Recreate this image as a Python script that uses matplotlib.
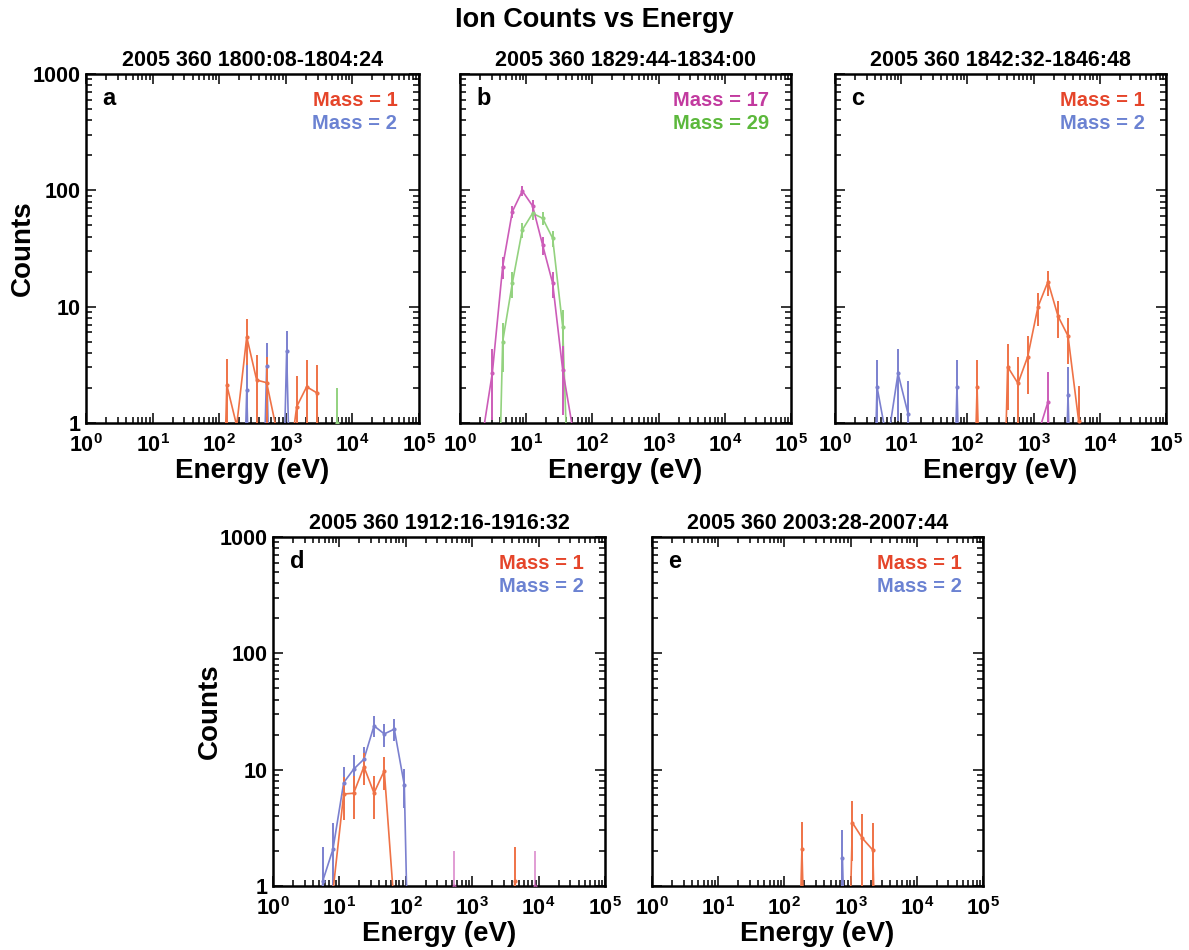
import numpy as np
import matplotlib
matplotlib.use("Agg")
import matplotlib.pyplot as plt
from matplotlib.ticker import LogLocator, FuncFormatter, NullFormatter

plt.rcParams['font.family'] = ['Liberation Sans', 'DejaVu Sans']
plt.rcParams['font.weight'] = 'bold'
plt.rcParams['mathtext.fontset'] = 'custom'
plt.rcParams['mathtext.rm'] = 'Liberation Sans:bold'
plt.rcParams['mathtext.bf'] = 'Liberation Sans:bold'
plt.rcParams['mathtext.it'] = 'Liberation Sans:bold'
plt.rcParams['mathtext.default'] = 'rm'

# ---- energy bins (eV) and counts per interval; 0 = no counts ----
energy_a = [92, 130, 183, 259, 365, 516, 730, 1030, 1456, 2057, 2906, 4100, 5800, 8200]
mass1_a  = [0, 2.12, 0.95, 5.5, 2.34, 2.22, 0.86, 0.3, 1.38, 2.05, 1.82, 0, 0, 0]
mass2_a  = [0, 0, 0, 1.92, 0, 3.11, 0, 4.16, 0, 0, 0, 0, 0, 0]
mass29_a = [0, 0, 0, 0, 0, 0, 0, 0, 0, 0, 0, 0, 1.0, 0]

energy_b = [1.53, 2.17, 3.08, 4.41, 6.17, 8.73, 12.5, 17.7, 25.1, 35.6, 50.3, 71.0]
mass17_b = [0, 0.75, 2.7, 22.1, 65.6, 98.8, 73.4, 33.9, 15.9, 2.86, 0.9, 0]
mass29_b = [0, 0, 0, 5.0, 15.9, 45.7, 63.5, 57.5, 38.7, 6.7, 0.02, 0]

energy_c = [3.05, 4.31, 6.2, 8.95, 12.7, 18, 25, 35, 49, 69.6, 98, 140, 200, 285,
            405, 581, 815, 1165, 1649, 2337, 3311, 4786, 6700]
mass1_c  = [0, 0, 0, 0, 0, 0, 0, 0, 0, 0, 0, 2.05, 0, 0,
            3.05, 2.19, 3.72, 10.0, 16.4, 8.3, 5.6, 1.05, 0]
mass2_c  = [0, 2.05, 0.67, 2.67, 1.2, 0, 0, 0, 0, 2.05, 0, 0, 0, 0,
            0, 0, 0, 0, 0, 0, 1.74, 0, 0]
mass17_c = [0, 0, 0, 0, 0, 0, 0, 0, 0, 0, 0, 0, 0, 0,
            0, 0, 0, 0.8, 1.52, 0, 0, 0, 0]

energy_d = [4.0, 5.6, 8.0, 11.6, 16.4, 23.4, 33.2, 47.4, 67.1, 94.9, 134, 190, 270,
            380, 541, 765, 1080, 1530, 2170, 3070, 4370, 6200, 8830, 12500]
mass1_d  = [0, 0, 0.9, 6.18, 6.27, 10.6, 6.3, 9.8, 0.65, 0, 0, 0, 0,
            0, 0, 0, 0, 0, 0, 0, 1.1, 0, 0, 0]
mass2_d  = [0, 1.1, 2.07, 7.73, 10.1, 12.3, 23.8, 20.3, 22.3, 7.4, 0, 0, 0,
            0, 0, 0, 0, 0, 0, 0, 0, 0, 0, 0]
mass17_d = [0, 0, 0, 0, 0, 0, 0, 0, 0, 0, 0, 0, 0,
            0, 1.0, 0, 0, 0, 0, 0, 0, 0, 1.0, 0]

energy_e = [92, 130, 184, 260, 370, 530, 753, 1064, 1507, 2162, 3060]
mass1_e  = [0, 0, 2.08, 0, 0, 0, 0, 3.5, 2.57, 2.04, 0]
mass2_e  = [0, 0, 0, 0, 0, 0, 1.73, 0, 0, 0, 0]

titles = ["2005 360 1800:08-1804:24", "2005 360 1829:44-1834:00",
          "2005 360 1842:32-1846:48", "2005 360 1912:16-1916:32",
          "2005 360 2003:28-2007:44"]
letters = ["a", "b", "c", "d", "e"]

# colours: (label colour, line colour)
C1 = ('#e5452a', '#ef7246')
C2 = ('#6b82d2', '#7b80cf')
C17 = ('#c23a9f', '#cc5cb8')
C29 = ('#5cb83c', '#93d27f')

FLOOR = 1e-3
W, H = 1189, 950

fig = plt.figure(figsize=(W / 100, H / 100), dpi=100)


def make_axes(l, t, r, b):
    return fig.add_axes([l / W, 1 - b / H, (r - l) / W, (b - t) / H])


def draw_series(ax, energy, counts, color, alpha=1.0):
    e = np.asarray(energy, float)
    c = np.asarray(counts, float)
    shown = np.where(c > 0, c, FLOOR)
    ax.plot(e, shown, color=color, lw=1.2, alpha=alpha, zorder=3)
    meas = c >= 1.0
    err = np.sqrt(c[meas])
    lo = np.maximum(c[meas] - err, FLOOR)
    hi = c[meas] + err
    ax.vlines(e[meas], lo, hi, color=color, lw=1.4, alpha=alpha, zorder=3)
    ax.plot(e[meas], c[meas], ls='none', marker='.', ms=4, color=color,
            alpha=alpha, zorder=4)


def style_axes(ax, show_ylabels):
    ax.set_xscale('log')
    ax.set_yscale('log')
    ax.set_xlim(1, 1e5)
    ax.set_ylim(1, 1000)
    ax.xaxis.set_major_locator(LogLocator(base=10, numticks=10))
    ax.xaxis.set_minor_locator(LogLocator(base=10, subs=np.arange(2, 10), numticks=20))
    ax.yaxis.set_major_locator(LogLocator(base=10, numticks=10))
    ax.yaxis.set_minor_locator(LogLocator(base=10, subs=np.arange(2, 10), numticks=20))
    ax.xaxis.set_major_formatter(FuncFormatter(
        lambda v, p: r'$\mathrm{10^{%d}}$' % int(round(np.log10(v)))))
    ax.xaxis.set_minor_formatter(NullFormatter())
    ax.yaxis.set_major_formatter(FuncFormatter(lambda v, p: '%d' % int(round(v))))
    ax.yaxis.set_minor_formatter(NullFormatter())
    ax.tick_params(which='both', direction='in', top=True, right=True,
                   width=1.1, labelsize=15.5, colors='black')
    ax.tick_params(which='major', length=7)
    ax.tick_params(which='minor', length=4)
    ax.tick_params(axis='x', pad=8)
    ax.tick_params(axis='y', pad=4, labelleft=show_ylabels)
    for s in ax.spines.values():
        s.set_linewidth(1.8)
    ax.set_xlabel('Energy (eV)', fontsize=20, fontweight='bold')
    ax.xaxis.set_label_coords(0.5, -0.1)
    ax.xaxis.label.set_va('top')
    if show_ylabels:
        ax.set_ylabel('Counts', fontsize=20, fontweight='bold')
        ax.yaxis.set_label_coords(-0.152, 0.5)


def legend_text(ax, lines):
    ys = [0.923, 0.858]
    for (txt, col), y in zip(lines, ys):
        ax.text(0.935, y, txt, transform=ax.transAxes, ha='right', va='center',
                fontsize=14.5, fontweight='bold', color=col)


boxes = [(86, 74, 419, 423), (460, 74, 791, 423), (835, 74, 1166, 423),
         (273, 537, 605, 886), (652, 537, 983, 886)]
axes = [make_axes(*bx) for bx in boxes]

ax = axes[0]
draw_series(ax, energy_a, mass29_a, C29[1])
draw_series(ax, energy_a, mass2_a, C2[1])
draw_series(ax, energy_a, mass1_a, C1[1])
legend_text(ax, [('Mass = 1', C1[0]), ('Mass = 2', C2[0])])

ax = axes[1]
draw_series(ax, energy_b, mass29_b, C29[1])
draw_series(ax, energy_b, mass17_b, C17[1])
legend_text(ax, [('Mass = 17', C17[0]), ('Mass = 29', C29[0])])

ax = axes[2]
draw_series(ax, energy_c, mass17_c, C17[1])
draw_series(ax, energy_c, mass2_c, C2[1])
draw_series(ax, energy_c, mass1_c, C1[1])
legend_text(ax, [('Mass = 1', C1[0]), ('Mass = 2', C2[0])])

ax = axes[3]
draw_series(ax, energy_d, mass17_d, C17[1], alpha=0.6)
draw_series(ax, energy_d, mass2_d, C2[1])
draw_series(ax, energy_d, mass1_d, C1[1])
legend_text(ax, [('Mass = 1', C1[0]), ('Mass = 2', C2[0])])

ax = axes[4]
draw_series(ax, energy_e, mass2_e, C2[1])
draw_series(ax, energy_e, mass1_e, C1[1])
legend_text(ax, [('Mass = 1', C1[0]), ('Mass = 2', C2[0])])

for i, ax in enumerate(axes):
    style_axes(ax, show_ylabels=(i in (0, 3)))
    ax.set_title(titles[i], fontsize=15.5, fontweight='bold', pad=6)
    ax.text(0.05, 0.93, letters[i], transform=ax.transAxes, ha='left',
            va='center', fontsize=17, fontweight='bold')

fig.text(0.5, 1 - 20 / H, 'Ion Counts vs Energy', ha='center', va='center',
         fontsize=19.5, fontweight='bold')

fig.savefig('out.png', dpi=100, facecolor='white')
